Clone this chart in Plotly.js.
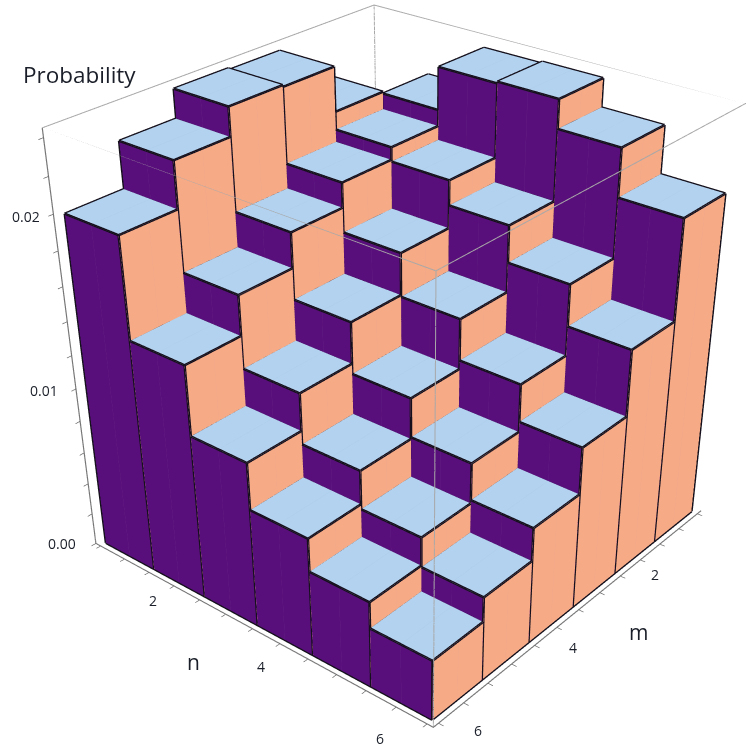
<!DOCTYPE html>
<html>
<head>
<meta charset="utf-8">
<script src="https://cdn.plot.ly/plotly-3.0.1.min.js"></script>
<style>
html, body { margin: 0; padding: 0; width: 746px; height: 750px; overflow: hidden; background: #fff; }
#wrap { position: absolute; left: 0; top: 0; width: 746px; height: 750px; overflow: hidden; }
#myDiv { position: absolute; }
</style>
</head>
<body>
<div id="wrap"><div id="myDiv"></div></div>
<script>
// m runs along plotly x, n along plotly y
mVals = [1, 2, 3, 4, 5, 6];
nVals = [1, 2, 3, 4, 5, 6];

// probability per m row, one value for each n
probM1 = [0.0180, 0.0215, 0.0239, 0.0240, 0.0224, 0.0197];
probM2 = [0.0216, 0.0206, 0.0198, 0.0184, 0.0163, 0.0139];
probM3 = [0.0241, 0.0199, 0.0171, 0.0146, 0.0122, 0.0100];
probM4 = [0.0242, 0.0185, 0.0147, 0.0117, 0.0094, 0.0072];
probM5 = [0.0226, 0.0165, 0.0123, 0.0093, 0.0070, 0.0052];
probM6 = [0.0200, 0.0142, 0.0101, 0.0073, 0.0053, 0.0037];
probs = [probM1, probM2, probM3, probM4, probM5, probM6];

zTickLabels = ['0.00', '0.01', '0.02'];
catTickLabels = ['2', '4', '6'];

zMax = 0.0245;
axisMin = 0.4;
axisMax = 6.6;

// oversized plot, the picture only shows the part around the box
plotSize = 1420;
offsetX = -290;
offsetY = -198;

graphDiv = document.getElementById('myDiv');
graphDiv.style.left = offsetX + 'px';
graphDiv.style.top = offsetY + 'px';

function faceMesh(color, build){
    var mesh = {type: 'mesh3d', x: [], y: [], z: [], i: [], j: [], k: [],
        color: color, flatshading: true, hoverinfo: 'skip', showscale: false,
        lighting: {ambient: 1, diffuse: 0, specular: 0, roughness: 1, fresnel: 0},
        lightposition: {x: 0, y: 0, z: 1000}};
    for (let a = 0; a < mVals.length; a++) {
        for (let b = 0; b < nVals.length; b++) {
            var quad = build(mVals[a], nVals[b], probs[a][b]);
            var s = mesh.x.length;
            for (let c = 0; c < 4; c++) {
                mesh.x.push(quad[c][0]);
                mesh.y.push(quad[c][1]);
                mesh.z.push(quad[c][2]);
            }
            mesh.i.push(s, s);
            mesh.j.push(s + 1, s + 2);
            mesh.k.push(s + 2, s + 3);
        }
    }
    return mesh;
}

topFaces = faceMesh('#b2d2ef', function (m, n, p) {
    return [[m - .5, n - .5, p], [m + .5, n - .5, p], [m + .5, n + .5, p], [m - .5, n + .5, p]];
});
mFaces = faceMesh('#590f7b', function (m, n, p) {
    return [[m + .5, n - .5, 0], [m + .5, n + .5, 0], [m + .5, n + .5, p], [m + .5, n - .5, p]];
});
nFaces = faceMesh('#f6aa86', function (m, n, p) {
    return [[m - .5, n + .5, 0], [m + .5, n + .5, 0], [m + .5, n + .5, p], [m - .5, n + .5, p]];
});

function lineTrace(color, width){
    return {type: 'scatter3d', mode: 'lines', x: [], y: [], z: [],
        line: {color: color, width: width}, hoverinfo: 'skip', showlegend: false};
}

function addSegment(tr, a, b){
    tr.x.push(a[0], b[0], null);
    tr.y.push(a[1], b[1], null);
    tr.z.push(a[2], b[2], null);
}

// black outlines of the three visible faces
edges = lineTrace('#15101c', 5);
// faint seams in the middle of each face
seamsM = lineTrace('#662387', 1);
seamsN = lineTrace('#eda68c', 1);
seamsTop = lineTrace('#aac9eb', 1);
for (let a = 0; a < mVals.length; a++) {
    for (let b = 0; b < nVals.length; b++) {
        var m = mVals[a], n = nVals[b], p = probs[a][b];
        addSegment(edges, [m - .5, n - .5, p], [m + .5, n - .5, p]);
        addSegment(edges, [m + .5, n - .5, p], [m + .5, n + .5, p]);
        addSegment(edges, [m + .5, n + .5, p], [m - .5, n + .5, p]);
        addSegment(edges, [m - .5, n + .5, p], [m - .5, n - .5, p]);
        addSegment(edges, [m + .5, n + .5, 0], [m + .5, n + .5, p]);
        addSegment(edges, [m + .5, n - .5, 0], [m + .5, n - .5, p]);
        addSegment(edges, [m - .5, n + .5, 0], [m - .5, n + .5, p]);
        addSegment(edges, [m + .5, n - .5, 0], [m + .5, n + .5, 0]);
        addSegment(edges, [m - .5, n + .5, 0], [m + .5, n + .5, 0]);
        addSegment(seamsM, [m + .5, n, 0], [m + .5, n, p]);
        addSegment(seamsN, [m, n + .5, 0], [m, n + .5, p]);
        addSegment(seamsTop, [m - .5, n, p], [m + .5, n, p]);
    }
}

// grey bounding box
frame = lineTrace('#a8a8a8', 2);
lo = axisMin; hi = axisMax;
addSegment(frame, [lo, lo, zMax], [hi, lo, zMax]);
addSegment(frame, [hi, lo, zMax], [hi, hi, zMax]);
addSegment(frame, [hi, hi, zMax], [lo, hi, zMax]);
addSegment(frame, [lo, hi, zMax], [lo, lo, zMax]);
addSegment(frame, [lo, lo, 0], [lo, lo, zMax]);
addSegment(frame, [hi, hi, 0], [hi, hi, zMax]);
addSegment(frame, [hi, lo, 0], [hi, lo, zMax]);

catTickVals = [];
for (let t = 0.5; t <= 6.5; t += 0.5) {
    catTickVals.push(t);
}
zTickVals = [];
for (let t = 0; t <= 12; t++) {
    zTickVals.push(t * 0.002);
}

function axisStyle(range, vals){
    return {
        range: range, autorange: false, title: {text: ''},
        tickmode: 'array', tickvals: vals, ticktext: vals.map(function () { return ''; }),
        ticks: 'outside', ticklen: 5, tickcolor: '#666', tickwidth: 1.5,
        showline: true, linecolor: '#777', linewidth: 2.5,
        showgrid: false, zeroline: false, showbackground: false, showspikes: false
    };
}

function px(x){ return (x - offsetX) / plotSize; }
function py(y){ return 1 - (y - offsetY) / plotSize; }

function label(text, x, y, size){
    return {text: text, xref: 'paper', yref: 'paper', x: px(x), y: py(y), showarrow: false,
        xanchor: 'center', yanchor: 'middle',
        font: {family: '"Open Sans", sans-serif', size: size, color: '#1a1e28'}};
}

layout = {
    width: plotSize, height: plotSize, autosize: false,
    margin: {l: 0, r: 0, t: 0, b: 0}, paper_bgcolor: '#fff', showlegend: false,
    scene: {
        domain: {x: [0, 1], y: [0, 1]},
        aspectmode: 'manual', aspectratio: {x: 1, y: 1, z: 1},
        camera: {eye: {x: 2.511, y: 2.127, z: 1.761}, center: {x: 0.138, y: 0.1665, z: -0.315}, up: {x: 0, y: 0, z: 1}},
        xaxis: axisStyle([axisMin, axisMax], catTickVals),
        yaxis: axisStyle([axisMin, axisMax], catTickVals),
        zaxis: axisStyle([0, zMax], zTickVals)
    },
    annotations: [
        label('Probability', 79, 75, 22.5),
        label('n', 193, 662, 21),
        label('m', 638, 632, 21),
        label(zTickLabels[0], 62, 543, 14),
        label(zTickLabels[1], 44, 390, 14),
        label(zTickLabels[2], 26, 217, 14),
        label(catTickLabels[0], 153, 600, 14),
        label(catTickLabels[1], 261, 666, 14),
        label(catTickLabels[2], 380, 738, 14),
        label(catTickLabels[0], 655, 574, 14),
        label(catTickLabels[1], 573, 647, 14),
        label(catTickLabels[2], 478, 730, 14)
    ]
};

Plotly.newPlot(graphDiv, [topFaces, mFaces, nFaces, seamsTop, seamsM, seamsN, edges, frame], layout, {displayModeBar: false});
</script>
</body>
</html>
